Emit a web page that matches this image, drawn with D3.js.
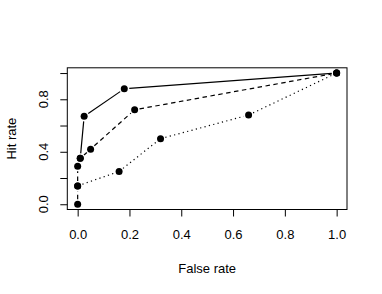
<!DOCTYPE html>
<html>
<head>
<meta charset="utf-8">
<script src="https://cdn.jsdelivr.net/npm/d3@7"></script>
<style>
  body { margin: 0; background: #fff; }
  text { font-family: "Liberation Sans", Arial, sans-serif; fill: #000; }
</style>
</head>
<body>
<div id="chart"></div>
<script>
// false rate / hit rate for the three curves
var solidFalse = [0.01, 0.025, 0.18, 1.0];
var solidHit = [0.35, 0.67, 0.88, 1.0];
var dashedFalse = [0.0, 0.0, 0.0, 0.01, 0.05, 0.22, 1.0];
var dashedHit = [0.0, 0.14, 0.29, 0.35, 0.42, 0.72, 1.0];
var dottedFalse = [0.0, 0.16, 0.32, 0.66, 1.0];
var dottedHit = [0.14, 0.25, 0.50, 0.68, 1.0];
var xTicks = [0, 0.2, 0.4, 0.6, 0.8, 1.0];
var yTicks = [0, 0.2, 0.4, 0.6, 0.8, 1.0];
var yLabelled = [0, 0.4, 0.8];

var svgWidth = 382;
var svgHeight = 294;
var box = { left: 67.3, right: 347, top: 67.8, bottom: 209.5 };

var svg = d3.select("#chart")
  .append("svg")
  .attr("width", svgWidth)
  .attr("height", svgHeight);

// R style: range padded 4% on each side
var xScale = d3.scaleLinear().domain([-0.04, 1.04]).range([box.left, box.right]);
var yScale = d3.scaleLinear().domain([-0.04, 1.04]).range([box.bottom, box.top]);

// box
svg.append("rect")
  .attr("x", box.left).attr("y", box.top)
  .attr("width", box.right - box.left).attr("height", box.bottom - box.top)
  .attr("fill", "none").attr("stroke", "#000").attr("stroke-width", 1);

// x axis
var xAxis = d3.axisBottom(xScale).tickValues(xTicks).tickSize(7).tickPadding(13)
  .tickFormat(d3.format(".1f"));
var gx = svg.append("g")
  .attr("transform", `translate(0,${box.bottom})`)
  .call(xAxis);
gx.select(".domain").remove();
gx.selectAll("text").attr("font-size", 13).attr("font-family", "Liberation Sans, Arial, sans-serif");

// y axis, rotated labels
var gy = svg.append("g")
  .attr("transform", `translate(${box.left},0)`)
  .call(d3.axisLeft(yScale).tickValues(yTicks).tickSize(7).tickFormat(""));
gy.select(".domain").remove();

svg.selectAll(".ylab")
  .data(yLabelled)
  .enter()
  .append("text")
  .attr("class", "ylab")
  .attr("transform", d => `translate(48,${yScale(d)}) rotate(-90)`)
  .attr("text-anchor", "middle")
  .attr("font-size", 13)
  .text(d3.format(".1f"));

// axis titles
svg.append("text")
  .attr("x", (box.left + box.right) / 2)
  .attr("y", 273)
  .attr("text-anchor", "middle")
  .attr("font-size", 13)
  .text("False rate");

svg.append("text")
  .attr("transform", `translate(16,${(box.top + box.bottom) / 2}) rotate(-90)`)
  .attr("text-anchor", "middle")
  .attr("font-size", 13)
  .text("Hit rate");

// lines with gaps around points (type = "b")
var gap = 5;
function drawSeries(xs, ys, dash) {
  var pts = xs.map((x, i) => [xScale(x), yScale(ys[i])]);
  for (var i = 0; i < pts.length - 1; i++) {
    var a = pts[i], b = pts[i + 1];
    var dx = b[0] - a[0], dy = b[1] - a[1];
    var len = Math.sqrt(dx * dx + dy * dy);
    if (len <= 2 * gap) continue;
    var ux = dx / len, uy = dy / len;
    svg.append("line")
      .attr("x1", a[0] + ux * gap).attr("y1", a[1] + uy * gap)
      .attr("x2", b[0] - ux * gap).attr("y2", b[1] - uy * gap)
      .attr("stroke", "#000")
      .attr("stroke-width", 1.2)
      .attr("stroke-dasharray", dash);
  }
  svg.selectAll(null)
    .data(pts)
    .enter()
    .append("circle")
    .attr("cx", d => d[0])
    .attr("cy", d => d[1])
    .attr("r", 3.5)
    .attr("fill", "#000");
}

drawSeries(solidFalse, solidHit, null);
drawSeries(dashedFalse, dashedHit, "4.5,3.5");
drawSeries(dottedFalse, dottedHit, "1.2,3.3");
</script>
</body>
</html>
